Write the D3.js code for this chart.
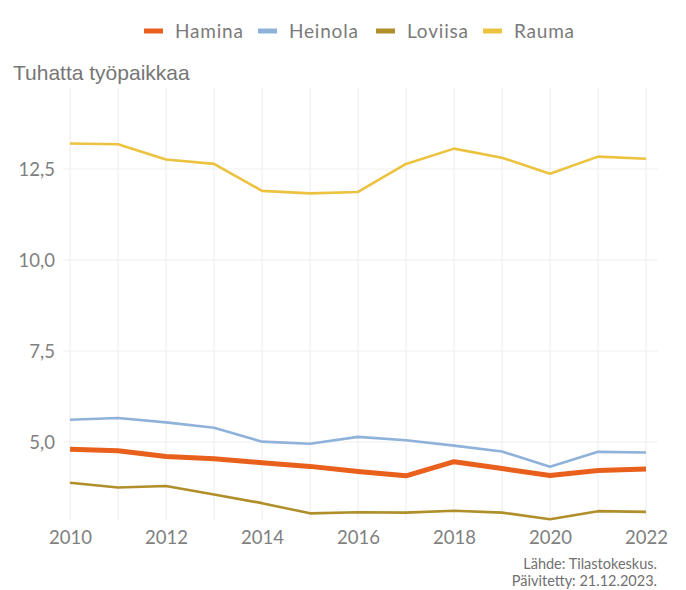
<!DOCTYPE html>
<html>
<head>
<meta charset="utf-8">
<script src="https://cdn.jsdelivr.net/npm/d3@7"></script>
<style>
  body { margin: 0; background: #fff; }
  svg text { font-family: Lato, "Open Sans", sans-serif; }
</style>
</head>
<body>
<div class="chart"></div>
<script>
// data (thousands of jobs)
let years = [2010, 2011, 2012, 2013, 2014, 2015, 2016, 2017, 2018, 2019, 2020, 2021, 2022];
let hamina  = [4.80, 4.76, 4.60, 4.54, 4.43, 4.33, 4.19, 4.07, 4.46, 4.27, 4.08, 4.22, 4.26];
let heinola = [5.61, 5.66, 5.54, 5.39, 5.01, 4.95, 5.14, 5.05, 4.90, 4.74, 4.32, 4.73, 4.71];
let loviisa = [3.88, 3.75, 3.79, 3.56, 3.32, 3.04, 3.07, 3.06, 3.11, 3.06, 2.88, 3.10, 3.08];
let rauma   = [13.20, 13.18, 12.76, 12.64, 11.90, 11.83, 11.87, 12.64, 13.06, 12.81, 12.37, 12.84, 12.78];
let yTicks = [5, 7.5, 10, 12.5];
let xTicks = [2010, 2012, 2014, 2016, 2018, 2020, 2022];

let series = [
  { name: 'Hamina', values: hamina, color: '#e8601c', width: 5 },
  { name: 'Heinola', values: heinola, color: '#8fb2da', width: 2.6 },
  { name: 'Loviisa', values: loviisa, color: '#b08e2a', width: 2.6 },
  { name: 'Rauma', values: rauma, color: '#ecc23f', width: 2.6 }
];

var width = 686,
    height = 590;

var x = d3.scaleLinear().domain([2010, 2022]).range([70, 646]);
var y = d3.scaleLinear().domain([5, 12.5]).range([442, 169]);

var svg = d3.select('.chart')
  .append('svg')
  .attr('width', width)
  .attr('height', height);

// grid
svg.append('g')
  .selectAll('line')
  .data(years)
  .enter()
  .append('line')
  .attr('x1', (d) => x(d)).attr('x2', (d) => x(d))
  .attr('y1', 88).attr('y2', 520)
  .attr('stroke', '#efefef')
  .attr('stroke-width', 1.2);

svg.append('g')
  .selectAll('line')
  .data(yTicks)
  .enter()
  .append('line')
  .attr('x1', 63).attr('x2', 658)
  .attr('y1', (d) => y(d)).attr('y2', (d) => y(d))
  .attr('stroke', '#efefef')
  .attr('stroke-width', 1.2);

// axes
var fmt = (d) => d3.format('.1f')(d).replace('.', ',');

var yAxis = d3.axisLeft(y).tickValues(yTicks).tickFormat(fmt).tickSize(0).tickPadding(0);
var gy = svg.append('g').attr('transform', 'translate(55, 0)').call(yAxis);
gy.select('.domain').remove();
gy.selectAll('text')
  .attr('font-size', 18.5)
  .attr('fill', '#808080')
  .attr('dy', '0.35em');

var xAxis = d3.axisBottom(x).tickValues(xTicks).tickFormat(d3.format('d')).tickSize(0).tickPadding(0);
var gx = svg.append('g').attr('transform', 'translate(0, 527)').call(xAxis);
gx.select('.domain').remove();
gx.selectAll('text')
  .attr('font-size', 18.5)
  .attr('fill', '#808080')
  .attr('dy', '0.9em');

// lines (draw Hamina last so it sits on top)
var line = d3.line()
  .x((d, i) => x(years[i]))
  .y((d) => y(d));

svg.append('g')
  .selectAll('path')
  .data([series[3], series[2], series[1], series[0]])
  .enter()
  .append('path')
  .attr('d', (d) => line(d.values))
  .attr('fill', 'none')
  .attr('stroke', (d) => d.color)
  .attr('stroke-width', (d) => d.width)
  .attr('stroke-linejoin', 'round');

// y title
svg.append('text')
  .attr('x', 13).attr('y', 80)
  .attr('font-size', 21)
  .attr('fill', '#767676')
  .style('font-family', '"Liberation Sans", Arial, sans-serif')
  .text('Tuhatta työpaikkaa');

// legend
var legendX = [144, 258, 376, 483];
var legend = svg.append('g')
  .selectAll('g')
  .data(series)
  .enter()
  .append('g')
  .attr('transform', (d, i) => 'translate(' + legendX[i] + ', 31)');

legend.append('line')
  .attr('x1', 0).attr('x2', 19)
  .attr('stroke', (d) => d.color)
  .attr('stroke-width', 5);

legend.append('text')
  .attr('x', 31)
  .attr('dy', '0.35em')
  .attr('font-size', 19)
  .attr('letter-spacing', 0.8)
  .attr('fill', '#7a7a7a')
  .text((d) => d.name);

// source
svg.append('text')
  .attr('x', 657).attr('y', 569)
  .attr('text-anchor', 'end')
  .attr('font-size', 14.5)
  .attr('fill', '#707070')
  .text('Lähde: Tilastokeskus.');

svg.append('text')
  .attr('x', 657).attr('y', 586)
  .attr('text-anchor', 'end')
  .attr('font-size', 14.5)
  .attr('fill', '#707070')
  .text('Päivitetty: 21.12.2023.');
</script>
</body>
</html>
